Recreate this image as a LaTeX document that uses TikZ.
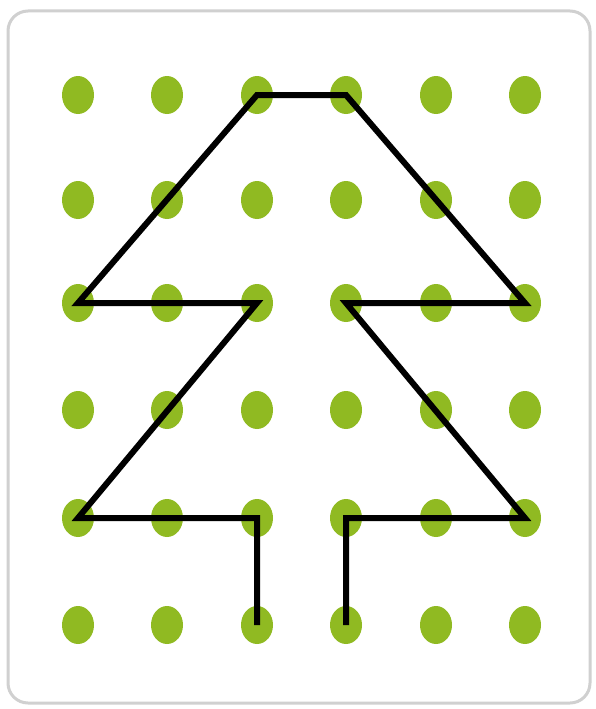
\documentclass[tikz,border=0pt]{standalone}
\definecolor{dotgreen}{RGB}{144,186,34}
\definecolor{framegray}{RGB}{208,208,208}
\tikzset{
  gdot/.style={fill=dotgreen},
  treeline/.style={line width=6pt, black, line join=miter, line cap=butt}
}
\begin{document}
\begin{tikzpicture}[x=1pt,y=-1pt]
\useasboundingbox (0,0) rectangle (595,709);
\draw[framegray, line width=3pt, rounded corners=20pt] (8,11) rectangle (590,703);
\foreach \c in {78,167,257,346,436,525}{
  \foreach \r in {95,200,303,410,518,625}{
    \fill[gdot] (\c,\r) ellipse [x radius=16, y radius=19];
  }
}
\coordinate (t1) at (257,95);
\coordinate (t2) at (346,95);
\coordinate (l1) at (78,303);
\coordinate (l2) at (257,303);
\coordinate (l3) at (78,518);
\coordinate (l4) at (257,518);
\coordinate (l5) at (257,625);
\coordinate (r1) at (525,303);
\coordinate (r2) at (346,303);
\coordinate (r3) at (525,518);
\coordinate (r4) at (346,518);
\coordinate (r5) at (346,625);
\draw[treeline] (l5) -- (l4) -- (l3) -- (l2) -- (l1) -- (t1) -- (t2) -- (r1) -- (r2) -- (r3) -- (r4) -- (r5);
\end{tikzpicture}
\end{document}
